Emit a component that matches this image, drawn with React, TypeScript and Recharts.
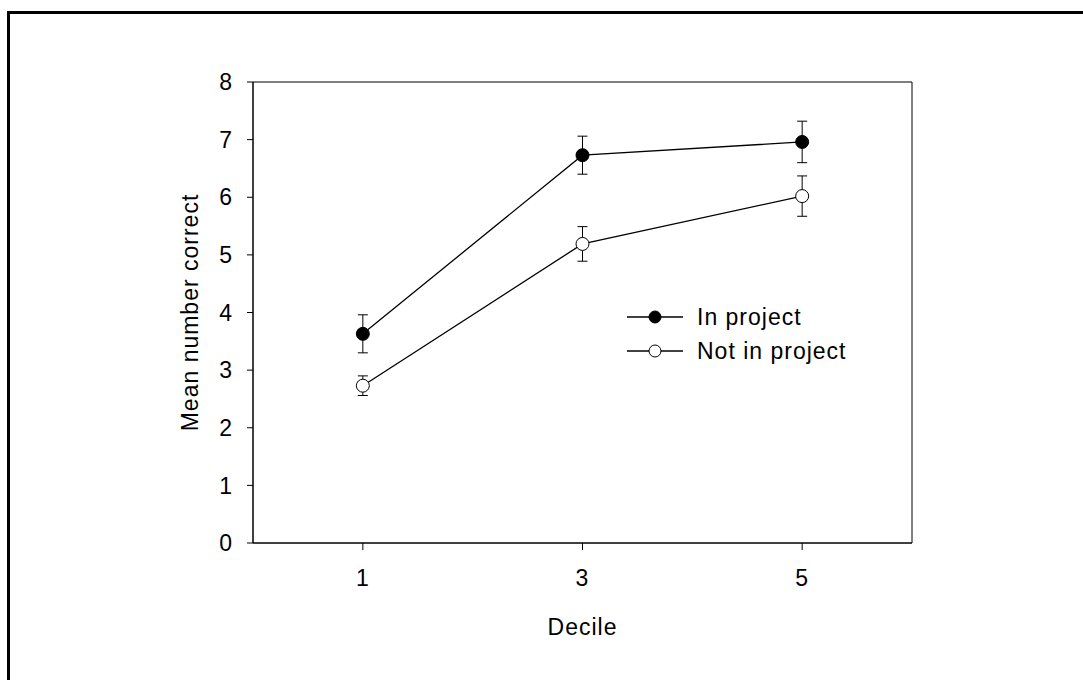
import {
  ComposedChart,
  ErrorBar,
  Label,
  Line,
  ReferenceArea,
  XAxis,
  YAxis,
} from "recharts";

const deciles = [1, 3, 5];
const inProject = [3.63, 6.73, 6.96];
const inProjectErr = [0.33, 0.33, 0.36];
const notInProject = [2.73, 5.19, 6.02];
const notInProjectErr = [0.17, 0.3, 0.35];
const yTicks = [0, 1, 2, 3, 4, 5, 6, 7, 8];

const data = deciles.map((d, i) => ({
  decile: d,
  inProject: inProject[i],
  inProjectErr: inProjectErr[i],
  notInProject: notInProject[i],
  notInProjectErr: notInProjectErr[i],
}));

const FONT = "Arial, 'Liberation Sans', sans-serif";
const TEXT = { fontSize: 23, fill: "#000", fontFamily: FONT, letterSpacing: 1 };

const legendItems = [
  { label: "In project", fill: "#000" },
  { label: "Not in project", fill: "#fff" },
];

// legend drawn by hand, like the original figure (inside the plot box)
function LegendBox() {
  return (
    <div style={{ fontFamily: FONT, fontSize: 23, letterSpacing: 1, color: "#000" }}>
      {legendItems.map((it) => (
        <div key={it.label} style={{ display: "flex", alignItems: "center", height: 34 }}>
          <svg width={70} height={20}>
            <line x1={0} y1={10} x2={56} y2={10} stroke="#000" strokeWidth={1.3} />
            <circle cx={28} cy={10} r={6} fill={it.fill} stroke="#000" strokeWidth={1} />
          </svg>
          <span>{it.label}</span>
        </div>
      ))}
    </div>
  );
}

export default function App() {
  return (
    <div
      style={{
        position: "fixed",
        left: 0,
        top: 0,
        width: 1083,
        height: 680,
        overflow: "hidden",
        background: "#fff",
      }}
    >
      <div
        style={{
          position: "absolute",
          left: 7,
          top: 11,
          width: 1200,
          height: 800,
          borderLeft: "3px solid #000",
          borderTop: "3px solid #000",
        }}
      />
      <div style={{ position: "absolute", left: 0, top: 0 }}>
        <ComposedChart
          width={1083}
          height={680}
          data={data}
          margin={{ top: 82, right: 171, left: 127, bottom: 97 }}
        >
          <ReferenceArea x1={0} x2={6} y1={0} y2={8} fill="none" stroke="#000" strokeWidth={1} />
          <XAxis
            dataKey="decile"
            type="number"
            domain={[0, 6]}
            ticks={deciles}
            height={40}
            tickSize={7}
            tickMargin={20}
            stroke="#000"
            tick={TEXT}
            tickLine={{ stroke: "#000" }}
          >
            <Label value="Decile" position="bottom" offset={36} style={TEXT} />
          </XAxis>
          <YAxis
            type="number"
            domain={[0, 8]}
            ticks={yTicks}
            width={126}
            tickSize={6}
            tickMargin={14}
            stroke="#000"
            tick={TEXT}
            tickLine={{ stroke: "#000" }}
          >
            <Label value="Mean number correct" position="center" angle={-90} style={TEXT} />
          </YAxis>
          <Line
            dataKey="inProject"
            name="In project"
            stroke="#000"
            strokeWidth={1.3}
            isAnimationActive={false}
            dot={{ r: 6.5, fill: "#000", stroke: "#000", strokeWidth: 1 }}
            activeDot={false}
          >
            <ErrorBar dataKey="inProjectErr" width={5} stroke="#000" strokeWidth={1} isAnimationActive={false} />
          </Line>
          <Line
            dataKey="notInProject"
            name="Not in project"
            stroke="#000"
            strokeWidth={1.3}
            isAnimationActive={false}
            dot={{ r: 6.5, fill: "#fff", stroke: "#000", strokeWidth: 1 }}
            activeDot={false}
          >
            <ErrorBar dataKey="notInProjectErr" width={5} stroke="#000" strokeWidth={1} isAnimationActive={false} />
          </Line>
        </ComposedChart>
      </div>
      <div style={{ position: "absolute", left: 627, top: 300 }}>
        <LegendBox />
      </div>
    </div>
  );
}
